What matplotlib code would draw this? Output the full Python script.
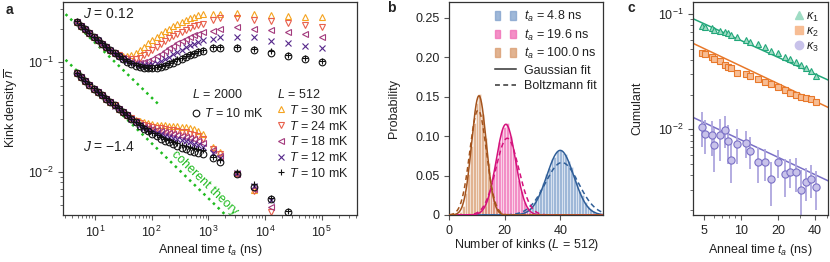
import numpy as np
import matplotlib
matplotlib.use("Agg")
import matplotlib.pyplot as plt
from matplotlib.patches import Patch
from matplotlib.lines import Line2D
from matplotlib.legend_handler import HandlerTuple
from matplotlib.ticker import NullFormatter, LogLocator

plt.rcParams["font.family"] = ["Liberation Sans", "DejaVu Sans"]
plt.rcParams["mathtext.fontset"] = "custom"
plt.rcParams["mathtext.rm"] = "Liberation Sans"
plt.rcParams["mathtext.it"] = "Liberation Sans:italic"
plt.rcParams["mathtext.bf"] = "Liberation Sans:bold"
plt.rcParams["font.size"] = 9
plt.rcParams["text.color"] = "#222222"
plt.rcParams["axes.labelcolor"] = "#222222"
plt.rcParams["axes.edgecolor"] = "#333333"
plt.rcParams["axes.linewidth"] = 0.9
plt.rcParams["xtick.color"] = "#555555"
plt.rcParams["ytick.color"] = "#555555"
plt.rcParams["xtick.labelcolor"] = "#222222"
plt.rcParams["ytick.labelcolor"] = "#222222"

# ---------------- panel a: kink density vs anneal time ----------------
t_dense = [4.8, 5.7, 6.7, 8.0, 9.5, 11.2, 13.3, 15.8, 18.7, 22.2, 26.4, 31.3, 37.1,
           44.0, 52.1, 61.8, 73.3, 86.9, 103, 122, 145, 172, 204, 242, 286, 340,
           403, 478, 566, 671, 796]
t_late_pos = [1200, 1600, 3200, 6400, 12800, 25600, 51200, 102400]
t_late_neg = [1200, 1600, 3200, 6400, 12800, 25600]

# J = 0.12
pos_L2000 = [0.230, 0.213, 0.197, 0.182, 0.168, 0.156, 0.146, 0.136, 0.127, 0.119, 0.112,
             0.105, 0.100, 0.0955, 0.0918, 0.0891, 0.0875, 0.0869, 0.0871, 0.0881, 0.0895,
             0.0918, 0.0946, 0.0977, 0.1016, 0.1057, 0.1096, 0.1138, 0.118, 0.122, 0.126]
pos_T10 = [0.232, 0.214, 0.198, 0.183, 0.169, 0.157, 0.147, 0.137, 0.128, 0.120, 0.113,
           0.106, 0.101, 0.0965, 0.093, 0.0905, 0.089, 0.0885, 0.0885, 0.089, 0.091,
           0.094, 0.097, 0.1005, 0.105, 0.109, 0.113, 0.117, 0.121, 0.125, 0.129]
pos_T12 = [0.231, 0.213, 0.197, 0.182, 0.168, 0.156, 0.146, 0.136, 0.127, 0.119, 0.112,
           0.106, 0.1015, 0.098, 0.0955, 0.094, 0.0935, 0.094, 0.0955, 0.098, 0.1015,
           0.106, 0.111, 0.117, 0.123, 0.129, 0.135, 0.141, 0.146, 0.151, 0.156]
pos_T18 = [0.229, 0.212, 0.196, 0.181, 0.167, 0.155, 0.145, 0.135, 0.126, 0.118, 0.113,
           0.107, 0.103, 0.100, 0.098, 0.098, 0.099, 0.102, 0.106, 0.112, 0.118,
           0.125, 0.132, 0.140, 0.147, 0.154, 0.161, 0.168, 0.174, 0.180, 0.186]
pos_T24 = [0.228, 0.212, 0.196, 0.181, 0.167, 0.155, 0.145, 0.135, 0.126, 0.120, 0.114,
           0.109, 0.106, 0.105, 0.106, 0.109, 0.114, 0.120, 0.127, 0.136, 0.145,
           0.154, 0.163, 0.171, 0.179, 0.187, 0.195, 0.202, 0.209, 0.216, 0.222]
pos_T30 = [0.229, 0.213, 0.197, 0.182, 0.168, 0.156, 0.146, 0.136, 0.128, 0.121, 0.116,
           0.113, 0.113, 0.115, 0.120, 0.128, 0.137, 0.147, 0.158, 0.168, 0.178,
           0.189, 0.199, 0.209, 0.219, 0.229, 0.238, 0.247, 0.255, 0.263, 0.270]
pos_L2000_late = [0.132, 0.133, 0.132, 0.128, 0.120, 0.113, 0.106, 0.099]
pos_T10_late = [0.136, 0.137, 0.135, 0.131, 0.124, 0.116, 0.108, 0.101]
pos_T12_late = [0.160, 0.167, 0.169, 0.167, 0.155, 0.149, 0.140, 0.132]
pos_T18_late = [0.191, 0.197, 0.208, 0.197, 0.194, 0.187, 0.177, 0.169]
pos_T24_late = [0.239, 0.248, 0.248, 0.239, 0.236, 0.223, 0.216, 0.208]
pos_T30_late = [0.273, 0.274, 0.279, 0.273, 0.266, 0.262, 0.257, 0.253]

# J = -1.4
neg_L2000 = [0.0785, 0.0724, 0.0668, 0.0617, 0.0569, 0.0531, 0.0494, 0.0460, 0.0429, 0.0400,
             0.0374, 0.0348, 0.0324, 0.0301, 0.0281, 0.0261, 0.0246, 0.0233, 0.0221, 0.0209,
             0.0200, 0.0191, 0.0184, 0.0177, 0.0170, 0.0165, 0.0159, 0.0154, 0.0151, 0.0148, 0.0145]
neg_T10 = [0.0790, 0.0728, 0.0671, 0.0620, 0.0572, 0.0534, 0.0497, 0.0463, 0.0432, 0.0403,
           0.0377, 0.0351, 0.0327, 0.0304, 0.0284, 0.0264, 0.0249, 0.0236, 0.0225, 0.0215,
           0.0207, 0.0199, 0.0193, 0.0187, 0.0181, 0.0176, 0.0171, 0.0166, 0.0163, 0.0160, 0.0157]
neg_T12 = [0.0782, 0.0722, 0.0666, 0.0615, 0.0568, 0.0530, 0.0493, 0.0459, 0.0428, 0.0399,
           0.0373, 0.0348, 0.0324, 0.0301, 0.0281, 0.0263, 0.0250, 0.0241, 0.0233, 0.0225,
           0.0218, 0.0212, 0.0206, 0.0201, 0.0197, 0.0193, 0.0189, 0.0184, 0.0180, 0.0176, 0.0169]
neg_T18 = [0.0780, 0.0720, 0.0665, 0.0614, 0.0567, 0.0529, 0.0492, 0.0458, 0.0428, 0.0399,
           0.0373, 0.0348, 0.0324, 0.0301, 0.0284, 0.0268, 0.0257, 0.0249, 0.0243, 0.0237,
           0.0232, 0.0227, 0.0223, 0.0219, 0.0215, 0.0211, 0.0207, 0.0202, 0.0197, 0.0191, 0.0182]
neg_T24 = [0.0783, 0.0722, 0.0667, 0.0616, 0.0568, 0.0530, 0.0493, 0.0459, 0.0429, 0.0400,
           0.0374, 0.0348, 0.0324, 0.0305, 0.0289, 0.0276, 0.0267, 0.0260, 0.0255, 0.0251,
           0.0247, 0.0243, 0.0240, 0.0237, 0.0234, 0.0231, 0.0227, 0.0222, 0.0216, 0.0209, 0.0198]
neg_T30 = [0.0784, 0.0723, 0.0668, 0.0617, 0.0569, 0.0531, 0.0494, 0.0460, 0.0429, 0.0400,
           0.0374, 0.0349, 0.0328, 0.0310, 0.0297, 0.0287, 0.0280, 0.0275, 0.0271, 0.0268,
           0.0266, 0.0264, 0.0262, 0.0260, 0.0258, 0.0256, 0.0253, 0.0249, 0.0243, 0.0234, 0.0218]
neg_L2000_late = [0.0132, 0.0123, 0.0096, 0.0073, 0.0056, 0.0043]
neg_T10_late = [0.0137, 0.0127, 0.0099, 0.0077, 0.0057, 0.0044]
neg_T12_late = [0.0148, 0.0134, 0.0097, 0.0074, 0.0055]
neg_T18_late = [0.0156, 0.0140, 0.0096, 0.0070, 0.0048]
neg_T24_late = [0.0162, 0.0146, 0.0096, 0.0066, 0.0043]
neg_T30_late = [0.0169, 0.0152, 0.0098, 0.0068, 0.0038]

# coherent theory n = c * t^-1/2
coherent_c = {"pos": 0.471, "neg": 0.181}
coherent_tmax = {"pos": 130, "neg": 10000}

# ---------------- panel b: kink-number histograms ----------------
hist_labels = ["4.8", "19.6", "100.0"]
k_blue = list(range(25, 57))
p_blue = [0.001, 0.002, 0.004, 0.005, 0.009, 0.011, 0.018, 0.023, 0.033, 0.040, 0.052,
          0.059, 0.071, 0.074, 0.081, 0.083, 0.079, 0.077, 0.068, 0.061, 0.050, 0.042,
          0.031, 0.025, 0.017, 0.012, 0.008, 0.005, 0.003, 0.002, 0.001, 0.001]
k_pink = list(range(11, 32))
p_pink = [0.002, 0.006, 0.011, 0.021, 0.033, 0.052, 0.068, 0.092, 0.108, 0.112, 0.117,
          0.100, 0.084, 0.069, 0.044, 0.031, 0.016, 0.010, 0.004, 0.002, 0.001]
k_brown = list(range(3, 20))
p_brown = [0.001, 0.004, 0.012, 0.028, 0.052, 0.088, 0.117, 0.142, 0.153, 0.128, 0.097,
           0.066, 0.036, 0.017, 0.007, 0.002, 0.001]
gauss_mu = [40.0, 20.4, 10.7]
gauss_sd = [4.87, 3.47, 2.64]
boltz_mu = [40.6, 20.9, 10.4]
boltz_sd = [6.0, 4.1, 3.0]

# ---------------- panel c: cumulants ----------------
t_cum = [4.8, 5.1, 5.8, 6.0, 6.7, 7.4, 7.9, 8.3, 9.3, 10.9, 11.9, 13.8, 15.6, 17.6,
         20.1, 22.7, 24.9, 27.8, 30.9, 33.8, 36.9, 41.0]
kappa1 = [0.0787, 0.0776, 0.0752, 0.0727, 0.0713, 0.0694, 0.0680, 0.0657, 0.0636, 0.0595,
          0.0575, 0.0549, 0.0514, 0.0481, 0.0456, 0.0426, 0.0407, 0.0386, 0.0361, 0.0338,
          0.0322, 0.0290]
kappa2 = [0.0456, 0.0446, 0.0421, 0.0404, 0.0391, 0.0361, 0.0349, 0.0338, 0.0310, 0.0300,
          0.0290, 0.0271, 0.0259, 0.0246, 0.0231, 0.0219, 0.0208, 0.0198, 0.0192, 0.0186,
          0.0182, 0.0173]
kappa3 = [0.01055, 0.00917, 0.00887, 0.00731, 0.00887, 0.00993, 0.00796, 0.00542, 0.00750,
          0.00760, 0.00652, 0.00520, 0.00520, 0.00368, 0.00520, 0.00407, 0.00428, 0.00428,
          0.00298, 0.00349, 0.00373, 0.00318]
kappa3_err = [0.0035, 0.0030, 0.0030, 0.0030, 0.0035, 0.0030, 0.0030, 0.0020, 0.0025, 0.0020,
              0.0020, 0.0018, 0.0016, 0.0015, 0.0014, 0.0015, 0.0012, 0.0014, 0.0015, 0.0011,
              0.0012, 0.0012]
fit_amp = [0.179, 0.113, 0.0256]
fit_exp = [0.483, 0.505, 0.50]

# ---------------- styles ----------------
temp_colors = {30: "#f5a31f", 24: "#e8604c", 18: "#a33a7d", 12: "#55278a", 10: "#111111"}
hist_fill = ["#7fa0cc", "#f06ab4", "#d89a6c"]
hist_line = ["#2f5e98", "#d4127c", "#a4531c"]
cum_line = ["#22a77a", "#e8782a", "#7a70c6"]
cum_face = ["#9fdcc4", "#f7bd94", "#c8c2ea"]
green = "#20bb20"

fig = plt.figure(figsize=(8.3, 2.62), dpi=100)
ax_a = fig.add_axes([0.0759, 0.1794, 0.3542, 0.813])
ax_b = fig.add_axes([0.5413, 0.1794, 0.1855, 0.813])
ax_c = fig.add_axes([0.8349, 0.1794, 0.1627, 0.813])

for ax in (ax_a, ax_b, ax_c):
    ax.tick_params(which="major", direction="out", length=3.5, width=0.8, labelsize=9)
    ax.tick_params(which="minor", direction="out", length=2.0, width=0.6)

# ---- panel a ----
ax = ax_a
ax.set_xscale("log")
ax.set_yscale("log")
for key in ("pos", "neg"):
    tt = np.array([2.5, coherent_tmax[key]])
    ax.plot(tt, coherent_c[key] / np.sqrt(tt), ls=":", lw=1.8, color=green, zorder=1)

series = [
    (30, "^", pos_T30, pos_T30_late, neg_T30, neg_T30_late),
    (24, "v", pos_T24, pos_T24_late, neg_T24, neg_T24_late),
    (18, "<", pos_T18, pos_T18_late, neg_T18, neg_T18_late),
    (12, "x", pos_T12, pos_T12_late, neg_T12, neg_T12_late),
    (10, "+", pos_T10, pos_T10_late, neg_T10, neg_T10_late),
]
handles_512 = []
for T, m, pd_, pl_, nd_, nl_ in series:
    c = temp_colors[T]
    kw = dict(ls="none", marker=m, ms=4.2, mew=0.8, mfc="none", mec=c, zorder=2)
    ax.plot(t_dense + t_late_pos[:len(pl_)], pd_ + pl_, **kw)
    ax.plot(t_dense + t_late_neg[:len(nl_)], nd_ + nl_, **kw)
    handles_512.append(Line2D([], [], **kw))
kw0 = dict(ls="none", marker="o", ms=4.8, mew=0.8, mfc="none", mec="#111111", zorder=3)
ax.plot(t_dense + t_late_pos, pos_L2000 + pos_L2000_late, **kw0)
ax.plot(t_dense + t_late_neg, neg_L2000 + neg_L2000_late, **kw0)

ax.set_xlim(2.73, 4.2e5)
ax.set_ylim(0.00403, 0.349)
ax.set_xlabel("Anneal time $t_a$ (ns)", labelpad=1.2)
ax.set_ylabel(r"Kink density $\overline{n}$")
ax.yaxis.set_label_coords(-0.145, 0.5)
ax.text(0.068, 0.944, "$J$ = 0.12", transform=ax.transAxes, fontsize=10, va="center")
ax.text(0.068, 0.319, "$J$ = \u22121.4", transform=ax.transAxes, fontsize=10, va="center")
ax.text(871, 0.00781, "coherent theory", color=green, rotation=-44, fontsize=9,
        ha="center", va="center", rotation_mode="anchor")

leg1 = ax.legend([Line2D([], [], **kw0)], ["$T$ = 10 mK"], title="$L$ = 2000",
                 loc="upper left", bbox_to_anchor=(0.438, 0.596), frameon=False,
                 handlelength=0.6, handletextpad=0.35, borderpad=0, borderaxespad=0,
                 alignment="left", fontsize=9, title_fontsize=9)
ax.add_artist(leg1)
ax.legend(handles_512, [f"$T$ = {T} mK" for T in (30, 24, 18, 12, 10)],
          title="$L$ = 512", loc="upper left", bbox_to_anchor=(0.728, 0.596),
          frameon=False, handlelength=0.6, handletextpad=0.35, borderpad=0,
          borderaxespad=0, labelspacing=0.22, alignment="left", fontsize=9,
          title_fontsize=9)

# ---- panel b ----
ax = ax_b
xs = np.linspace(0, 56, 400)
for k, p, fc in ((k_blue, p_blue, hist_fill[0]), (k_pink, p_pink, hist_fill[1]),
                 (k_brown, p_brown, hist_fill[2])):
    ax.bar(k, p, width=1.0, color=fc, alpha=0.75, edgecolor=(1, 1, 1, 0.25),
           linewidth=0.4, zorder=1)
for i in range(3):
    g = np.exp(-(xs - gauss_mu[i]) ** 2 / (2 * gauss_sd[i] ** 2)) / (gauss_sd[i] * np.sqrt(2 * np.pi))
    b = np.exp(-(xs - boltz_mu[i]) ** 2 / (2 * boltz_sd[i] ** 2)) / (boltz_sd[i] * np.sqrt(2 * np.pi))
    ax.plot(xs, g, color=hist_line[i], lw=1.1, zorder=3)
    ax.plot(xs, b, color=hist_line[i], lw=1.1, dashes=(3.2, 2.2), zorder=3)
ax.set_xlim(0, 55.5)
ax.set_ylim(0, 0.27)
ax.set_xticks([0, 20, 40])
ax.set_yticks([0, 0.05, 0.10, 0.15, 0.20, 0.25],
              ["0", "0.05", "0.10", "0.15", "0.20", "0.25"])
ax.set_xlabel("Number of kinks ($L$ = 512)", labelpad=0.5)
ax.set_ylabel("Probability")
ax.yaxis.set_label_coords(-0.32, 0.5)
hb = [(Patch(color=f, alpha=0.75), Patch(color=f, alpha=0.75)) for f in hist_fill]
hl = [Line2D([], [], color="#333333", lw=1.1),
      Line2D([], [], color="#333333", lw=1.1, dashes=(3.2, 2.2))]
ax.legend(hb + hl, [f"$t_a$ = {s} ns" for s in hist_labels] + ["Gaussian fit", "Boltzmann fit"],
          handler_map={tuple: HandlerTuple(ndivide=None, pad=0.8)}, loc="upper right",
          frameon=False, fontsize=9, handlelength=1.7, handletextpad=0.6,
          labelspacing=0.28, borderaxespad=0.15)

# ---- panel c ----
ax = ax_c
ax.set_xscale("log")
ax.set_yscale("log")
tf = np.array([4.0, 52.0])
for i in range(3):
    ax.plot(tf, fit_amp[i] * tf ** (-fit_exp[i]), color=cum_line[i], lw=1.1, zorder=1)
ax.errorbar(t_cum, kappa3, yerr=kappa3_err, fmt="o", ms=5.2, mfc=cum_face[2],
            mec=cum_line[2], mew=0.8, ecolor="#aea6de", elinewidth=1.3, capsize=0, zorder=2)
ax.plot(t_cum, kappa2, "s", ms=5, mfc=cum_face[1], mec=cum_line[1], mew=0.8, zorder=3)
ax.plot(t_cum, kappa1, "^", ms=5, mfc=cum_face[0], mec=cum_line[0], mew=0.8, zorder=3)
ax.set_xlim(4.06, 51)
ax.set_ylim(0.00181, 0.127)
ax.set_xticks([5, 10, 20, 40], ["5", "10", "20", "40"])
ax.xaxis.set_minor_locator(LogLocator(base=10, subs=np.arange(2, 10)))
ax.xaxis.set_minor_formatter(NullFormatter())
ax.set_xlabel("Anneal time $t_a$ (ns)")
ax.set_ylabel("Cumulant")
ax.yaxis.set_label_coords(-0.37, 0.5)
hc = [Line2D([], [], ls="none", marker=m, ms=6, mfc=f, mec=f)
      for m, f in zip(["^", "s", "o"], cum_face)]
ax.legend(hc, [r"$\kappa_1$", r"$\kappa_2$", r"$\kappa_3$"], loc="upper right",
          frameon=False, fontsize=9, handlelength=0.8, handletextpad=0.2,
          labelspacing=0.15, borderaxespad=0.3)

fig.text(0.011, 0.962, "a", fontsize=10, fontweight="bold", ha="center", va="center")
fig.text(0.472, 0.968, "b", fontsize=10, fontweight="bold", ha="center", va="center")
fig.text(0.761, 0.968, "c", fontsize=10, fontweight="bold", ha="center", va="center")

fig.savefig("out.png", dpi=100)
